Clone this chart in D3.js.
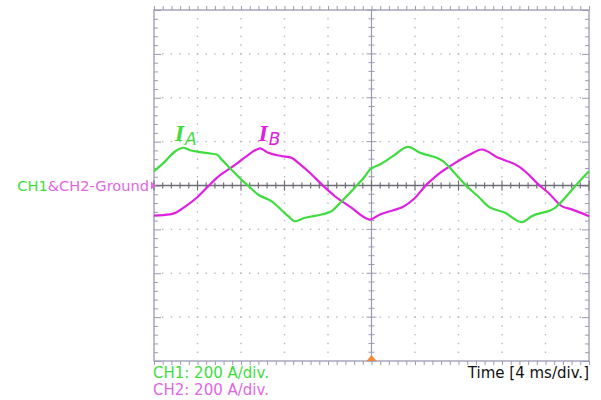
<!DOCTYPE html>
<html>
<head>
<meta charset="utf-8">
<script src="https://cdn.jsdelivr.net/npm/d3@7"></script>
<style>
  body { margin: 0; background: #fff; }
  svg { display: block; }
</style>
</head>
<body>
<div id="chart"></div>
<script>
// time in ms, current in A
const timeA = [0, 1.0, 1.93, 2.69, 3.31, 4.23, 5.15, 5.77, 6.23, 7.26, 8.18, 8.83, 9.56, 10.82, 12.35, 12.97, 13.89, 15.42, 16.34, 17.26, 18.48, 19.4, 19.86, 20.78, 21.98, 23.36, 24.46, 25.99, 26.57, 27.49, 28.75, 29.79, 30.71, 32.28, 33.81, 34.73, 36.87, 38.07, 38.99, 40];
const currentA = [65, 109, 155, 172, 161, 152, 146, 141, 118, 65, 20, -9, -41, -72, -140, -163, -147, -132, -117, -72, -9, 42, 73, 96, 134, 176, 149, 126, 111, 65, -3, -49, -94, -124, -167, -140, -102, -41, 12, 65];

const timeB = [0, 1.47, 2.09, 2.69, 3.93, 4.99, 5.77, 7.29, 8.52, 9.44, 9.75, 10.51, 11.74, 12.66, 13.27, 14.5, 15.42, 16.64, 18.18, 19.4, 19.86, 20.78, 22.0, 22.92, 23.84, 25.08, 26.3, 27.22, 29.06, 30.13, 31.66, 33.5, 34.11, 35.34, 36.26, 37.49, 38.41, 40];
const currentB = [-137, -132, -122, -102, -56, -3, 35, 88, 134, 164, 169, 149, 134, 126, 103, 50, 5, -49, -102, -147, -155, -132, -113, -97, -64, 5, 58, 88, 141, 164, 126, 88, 65, 5, -33, -94, -109, -140];

const timeDomain = [0, 40];        // 10 div x 4 ms
const currentDomain = [-800, 800]; // 8 div x 200 A
const timeMajor = d3.range(0, 40.01, 4);
const currentMajor = d3.range(-800, 800.01, 200);

const W = 601, H = 400;
const pLeft = 154, pRight = 589, pTop = 10, pBottom = 361;
const green = "#3edc3e", magenta = "#e020e0", pink = "#e266e2";
const frameColor = "#9a9ab4";

const svg = d3.select("#chart").append("svg").attr("width", W).attr("height", H);

const x = d3.scaleLinear().domain(timeDomain).range([pLeft, pRight]);
const y = d3.scaleLinear().domain(currentDomain).range([pBottom, pTop]);

const minorT = d3.range(0, 40.01, 0.8);
const minorI = d3.range(-800, 800.01, 40);

// dotted grid
const grid = svg.append("g");
timeMajor.slice(1, -1).forEach(t => {
  if (t === 20) return;
  grid.selectAll(null).data(minorI.slice(1, -1)).enter().append("rect")
    .attr("x", x(t) - 0.7).attr("y", d => y(d) - 0.7)
    .attr("width", 1.4).attr("height", 1.4).attr("fill", "#b4b4c2");
});
currentMajor.slice(1, -1).forEach(c => {
  if (c === 0) return;
  grid.selectAll(null).data(minorT.slice(1, -1)).enter().append("rect")
    .attr("x", d => x(d) - 0.7).attr("y", y(c) - 0.7)
    .attr("width", 1.4).attr("height", 1.4).attr("fill", "#b4b4c2");
});

// frame
svg.append("rect")
  .attr("x", pLeft).attr("y", pTop)
  .attr("width", pRight - pLeft).attr("height", pBottom - pTop)
  .attr("fill", "none").attr("stroke", frameColor).attr("stroke-width", 1.3);

// frame ticks via axes
const tickAxis = (axis, tr) => {
  const g = svg.append("g").attr("transform", tr).call(axis);
  g.select(".domain").remove();
  g.selectAll("text").remove();
  g.selectAll("line").attr("stroke", frameColor);
  return g;
};
const isMajorT = d => timeMajor.some(m => Math.abs(m - d) < 1e-6);
const isMajorI = d => currentMajor.some(m => Math.abs(m - d) < 1e-6);

tickAxis(d3.axisBottom(x).tickValues(minorT).tickSize(-4), `translate(0,${pTop})`);
tickAxis(d3.axisTop(x).tickValues(minorT).tickSize(-4), `translate(0,${pBottom})`);
tickAxis(d3.axisRight(y).tickValues(minorI).tickSize(-4), `translate(${pRight},0)`)
  .selectAll("line").attr("x2", d => isMajorI(d) ? -7 : -4);
tickAxis(d3.axisLeft(y).tickValues(minorI).tickSize(-4), `translate(${pLeft},0)`)
  .selectAll("line").attr("x2", d => isMajorI(d) ? 7 : 4);

// center cross
svg.append("line").attr("x1", x(20)).attr("x2", x(20)).attr("y1", pTop).attr("y2", pBottom)
  .attr("stroke", frameColor).attr("stroke-width", 1.2);
svg.append("g").attr("transform", `translate(${x(20)},0)`)
  .selectAll("line").data(minorI).enter().append("line")
  .attr("x1", d => isMajorI(d) ? -5 : -3).attr("x2", d => isMajorI(d) ? 5 : 3)
  .attr("y1", d => y(d)).attr("y2", d => y(d))
  .attr("stroke", frameColor);

svg.append("line").attr("x1", pLeft).attr("x2", pRight).attr("y1", y(0)).attr("y2", y(0))
  .attr("stroke", "#6e6e78").attr("stroke-width", 1.6);
svg.append("g").selectAll("line").data(minorT).enter().append("line")
  .attr("x1", d => x(d)).attr("x2", d => x(d))
  .attr("y1", d => y(0) - (isMajorT(d) ? 5 : 3)).attr("y2", d => y(0) + (isMajorT(d) ? 5 : 3))
  .attr("stroke", "#6e6e78").attr("stroke-width", 1.2);

// waveforms
const line = d3.line().x(d => x(d[0])).y(d => y(d[1])).curve(d3.curveMonotoneX);
svg.append("path").datum(d3.zip(timeB, currentB)).attr("d", line)
  .attr("fill", "none").attr("stroke", magenta).attr("stroke-width", 2.2)
  .attr("stroke-linejoin", "round");
svg.append("path").datum(d3.zip(timeA, currentA)).attr("d", line)
  .attr("fill", "none").attr("stroke", green).attr("stroke-width", 2.2)
  .attr("stroke-linejoin", "round");

// markers
svg.append("path")
  .attr("d", `M${pLeft - 3},${y(0) - 4}L${pLeft + 2},${y(0)}L${pLeft - 3},${y(0) + 4}Z`)
  .attr("fill", pink);
svg.append("path")
  .attr("d", `M${x(20) - 5},${pBottom}L${x(20)},${pBottom - 6}L${x(20) + 5},${pBottom}Z`)
  .attr("fill", "#f5893a");

// texts
const font = "'DejaVu Sans', Verdana, sans-serif";
const gl = svg.append("text").attr("x", pLeft - 5).attr("y", y(0) + 5)
  .attr("text-anchor", "end").attr("font-family", font).attr("font-size", 14.6);
gl.append("tspan").attr("fill", green).text("CH1");
gl.append("tspan").attr("fill", pink).text("&CH2-Ground");

svg.append("text").attr("x", pLeft - 1).attr("y", 378)
  .attr("font-family", font).attr("font-size", 15).attr("fill", green)
  .text("CH1: 200 A/div.");
svg.append("text").attr("x", pLeft - 1).attr("y", 395)
  .attr("font-family", font).attr("font-size", 15).attr("fill", pink)
  .text("CH2: 200 A/div.");
svg.append("text").attr("x", pRight).attr("y", 378).attr("text-anchor", "end")
  .attr("font-family", font).attr("font-size", 15).attr("fill", "#111")
  .text("Time [4 ms/div.]");

// I_A / I_B labels
const labels = [
  { sub: "A", t: 1.9, i: 205, color: green },
  { sub: "B", t: 9.6, i: 205, color: magenta }
];
labels.forEach(l => {
  const t = svg.append("text").attr("x", x(l.t)).attr("y", y(l.i))
    .attr("font-family", "'Liberation Serif', 'DejaVu Serif', serif")
    .attr("font-style", "italic").attr("font-weight", "bold")
    .attr("font-size", 24).attr("fill", l.color);
  t.append("tspan").text("I");
  t.append("tspan").attr("dy", 4).attr("dx", 1).attr("font-size", 17).attr("font-weight", "normal")
    .attr("font-family", "'DejaVu Sans', sans-serif").attr("font-style", "italic").text(l.sub);
});
</script>
</body>
</html>
